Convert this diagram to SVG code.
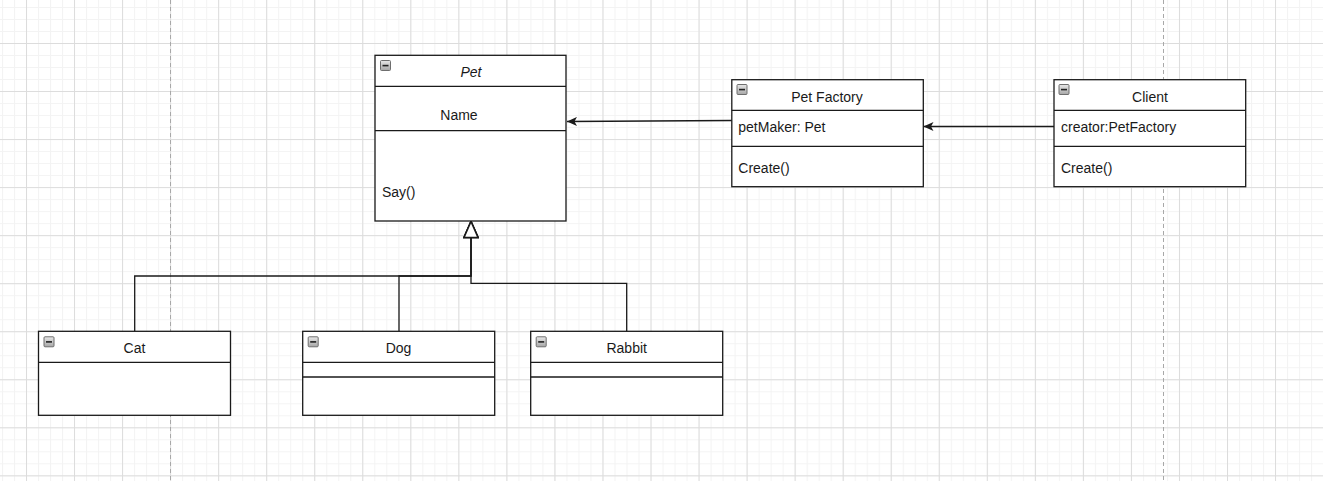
<svg xmlns="http://www.w3.org/2000/svg" width="1323" height="481" viewBox="0 0 1323 481">
  <defs>
    <pattern id="minor" patternUnits="userSpaceOnUse" x="2" y="7" width="12.01" height="12.01">
      <path d="M0,0.5 H12.01 M0.5,0 V12.01" fill="none" stroke="#f3f3f3" stroke-width="1"/>
    </pattern>
    <pattern id="major" patternUnits="userSpaceOnUse" x="26" y="43" width="48.04" height="48.04">
      <path d="M0,0.5 H48.04 M0.5,0 V48.04" fill="none" stroke="#dcdcdc" stroke-width="1"/>
    </pattern>
    <linearGradient id="iconGrad" x1="0" y1="0" x2="0" y2="1">
      <stop offset="0" stop-color="#e8e8e8"/>
      <stop offset="1" stop-color="#a6a6a6"/>
    </linearGradient>
    <marker id="arrow" markerUnits="userSpaceOnUse" viewBox="0 0 10 9" refX="10" refY="4.5" markerWidth="10" markerHeight="9" orient="auto">
      <path d="M0,0 L10,4.5 L0,9 L2.5,4.5 z" fill="#1a1a1a"/>
    </marker>
    <marker id="gen" markerUnits="userSpaceOnUse" viewBox="-1 -1 18 16" refX="16" refY="7" markerWidth="18" markerHeight="16" orient="auto">
      <path d="M0,0 L16,7 L0,14 z" fill="#ffffff" stroke="#1a1a1a" stroke-width="1.6"/>
    </marker>
    <g id="icon">
      <rect x="0.5" y="0.5" width="10" height="10" rx="1" fill="url(#iconGrad)" stroke="#6e6e6e" stroke-width="1"/>
      <rect x="2.5" y="4.8" width="6" height="1.6" fill="#222222"/>
    </g>
  </defs>
  <style>
    .box { fill: #ffffff; stroke: #1a1a1a; stroke-width: 1.3; }
    .sep { stroke: #1a1a1a; stroke-width: 1.3; fill: none; }
    .edge { fill: none; stroke: #1a1a1a; stroke-width: 1.3; }
    .t { font-family: "Liberation Sans", Arial, sans-serif; font-size: 14px; fill: #1a1a1a; }
    .c { text-anchor: middle; }
    .page { stroke: #a8a8a8; stroke-width: 1; stroke-dasharray: 4 3; }
  </style>

  <rect width="1323" height="481" fill="#ffffff"/>
  <rect width="1323" height="481" fill="url(#minor)"/>
  <rect width="1323" height="481" fill="url(#major)"/>
  <line class="page" x1="170.5" y1="0" x2="170.5" y2="481"/>
  <line class="page" x1="1163.5" y1="0" x2="1163.5" y2="481"/>

  <g id="connectors">
    <path class="edge" d="M732,120.5 L567,121.5" marker-end="url(#arrow)"/>
    <path class="edge" d="M1054,126.5 L923.5,126.5" marker-end="url(#arrow)"/>
    <path class="edge" d="M134.7,331.3 V276 H471 V221.5" marker-end="url(#gen)"/>
    <path class="edge" d="M399,331.3 V276 H471 V221.5" marker-end="url(#gen)"/>
    <path class="edge" d="M626.7,331.3 V283.3 H471 V221.5" marker-end="url(#gen)"/>
  </g>

  <g id="pet">
    <rect class="box" x="375" y="55.3" width="191" height="165.7"/>
    <line class="sep" x1="375" y1="86.3" x2="566" y2="86.3"/>
    <line class="sep" x1="375" y1="130.7" x2="566" y2="130.7"/>
    <use href="#icon" x="380" y="60"/>
    <text class="t c" x="471" y="77" font-style="italic">Pet</text>
    <text class="t c" x="459" y="119.5">Name</text>
    <text class="t" x="382" y="197">Say()</text>
  </g>

  <g id="petfactory">
    <rect class="box" x="731.8" y="79.7" width="191.5" height="107"/>
    <line class="sep" x1="731.8" y1="110.3" x2="923.3" y2="110.3"/>
    <line class="sep" x1="731.8" y1="146.3" x2="923.3" y2="146.3"/>
    <use href="#icon" x="736.5" y="84"/>
    <text class="t c" x="827" y="101.7">Pet Factory</text>
    <text class="t" x="738.3" y="132.3">petMaker: Pet</text>
    <text class="t" x="738.3" y="173.3">Create()</text>
  </g>

  <g id="client">
    <rect class="box" x="1054" y="79.7" width="191.7" height="107"/>
    <line class="sep" x1="1054" y1="110.3" x2="1245.7" y2="110.3"/>
    <line class="sep" x1="1054" y1="146.3" x2="1245.7" y2="146.3"/>
    <use href="#icon" x="1058.5" y="84"/>
    <text class="t c" x="1150" y="101.7">Client</text>
    <text class="t" x="1061" y="132.3">creator:PetFactory</text>
    <text class="t" x="1061" y="173.3">Create()</text>
  </g>

  <g id="cat">
    <rect class="box" x="38.5" y="331.3" width="192" height="84"/>
    <line class="sep" x1="38.5" y1="362.3" x2="230.5" y2="362.3"/>
    <use href="#icon" x="43.5" y="336.3"/>
    <text class="t c" x="134.5" y="353">Cat</text>
  </g>

  <g id="dog">
    <rect class="box" x="302.7" y="331.3" width="192" height="84"/>
    <line class="sep" x1="302.7" y1="362.3" x2="494.7" y2="362.3"/>
    <line class="sep" x1="302.7" y1="377" x2="494.7" y2="377"/>
    <use href="#icon" x="307.7" y="336.3"/>
    <text class="t c" x="398.5" y="353">Dog</text>
  </g>

  <g id="rabbit">
    <rect class="box" x="530.7" y="331.3" width="192" height="84"/>
    <line class="sep" x1="530.7" y1="362.3" x2="722.7" y2="362.3"/>
    <line class="sep" x1="530.7" y1="377" x2="722.7" y2="377"/>
    <use href="#icon" x="535.7" y="336.3"/>
    <text class="t c" x="626.7" y="353">Rabbit</text>
  </g>
</svg>
